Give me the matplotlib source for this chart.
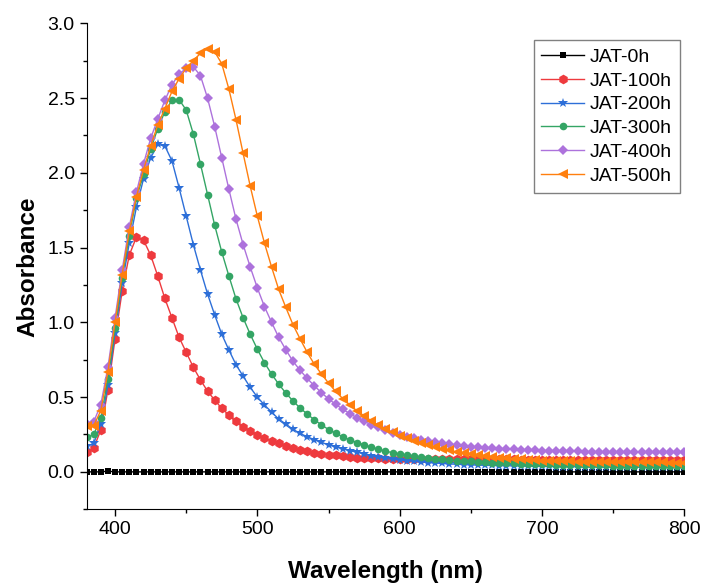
import matplotlib
matplotlib.use("Agg")
import matplotlib.pyplot as plt
from matplotlib.ticker import MultipleLocator

plt.rcParams.update({'font.family': ['Liberation Sans', 'DejaVu Sans']})

# wavelength grid (nm), one reading every 5 nm
wavelength = list(range(380, 805, 5))

jat_0h = [
    0.0, 0.0, 0.0, 0.005, 0.0, 0.0, 0.0, 0.0, 0.0, 0.0,
    0.0, 0.0, 0.0, 0.0, 0.0, 0.0, 0.0, 0.0, 0.0, 0.0,
    0.0, 0.0, 0.0, 0.0, 0.0, 0.0, 0.0, 0.0, 0.0, 0.0,
    0.0, 0.0, 0.0, 0.0, 0.0, 0.0, 0.0, 0.0, 0.0, 0.0,
    0.0, 0.0, 0.0, 0.0, 0.0, 0.0, 0.0, 0.0, 0.0, 0.0,
    0.0, 0.0, 0.0, 0.0, 0.0, 0.0, 0.0, 0.0, 0.0, 0.0,
    0.0, 0.0, 0.0, 0.0, 0.0, 0.0, 0.0, 0.0, 0.0, 0.0,
    0.0, 0.0, 0.0, 0.0, 0.0, 0.0, 0.0, 0.0, 0.0, 0.0,
    0.0, 0.0, 0.0, 0.0, 0.0]
jat_100h = [
    0.13, 0.16, 0.28, 0.55, 0.89, 1.21, 1.45, 1.57, 1.55, 1.45,
    1.31, 1.16, 1.03, 0.90, 0.80, 0.70, 0.615, 0.54, 0.48, 0.425,
    0.38, 0.337, 0.30, 0.275, 0.248, 0.225, 0.208, 0.19, 0.174, 0.16,
    0.147, 0.137, 0.128, 0.121, 0.114, 0.11, 0.105, 0.10, 0.096, 0.094,
    0.092, 0.090, 0.089, 0.088, 0.087, 0.087, 0.086, 0.086, 0.086, 0.085,
    0.085, 0.085, 0.085, 0.084, 0.084, 0.084, 0.084, 0.083, 0.083, 0.083,
    0.083, 0.082, 0.082, 0.082, 0.082, 0.082, 0.081, 0.081, 0.081, 0.081,
    0.081, 0.080, 0.080, 0.080, 0.080, 0.080, 0.080, 0.079, 0.079, 0.079,
    0.079, 0.079, 0.079, 0.079, 0.079]
jat_200h = [
    0.17, 0.19, 0.32, 0.58, 0.93, 1.26, 1.53, 1.77, 1.96, 2.10,
    2.19, 2.18, 2.08, 1.90, 1.71, 1.52, 1.35, 1.19, 1.05, 0.92,
    0.815, 0.717, 0.64, 0.565, 0.50, 0.447, 0.40, 0.353, 0.32, 0.285,
    0.257, 0.235, 0.215, 0.197, 0.181, 0.167, 0.154, 0.142, 0.131, 0.121,
    0.105, 0.097, 0.090, 0.084, 0.079, 0.074, 0.070, 0.066, 0.062, 0.059,
    0.056, 0.053, 0.051, 0.049, 0.047, 0.045, 0.044, 0.043, 0.042, 0.041,
    0.040, 0.039, 0.038, 0.037, 0.037, 0.036, 0.035, 0.035, 0.034, 0.034,
    0.033, 0.033, 0.033, 0.032, 0.032, 0.032, 0.031, 0.031, 0.031, 0.031,
    0.030, 0.030, 0.030, 0.030, 0.030]
jat_300h = [
    0.23, 0.25, 0.36, 0.62, 0.96, 1.30, 1.58, 1.83, 1.99, 2.16,
    2.295, 2.41, 2.485, 2.49, 2.42, 2.26, 2.06, 1.855, 1.65, 1.47,
    1.31, 1.157, 1.03, 0.92, 0.82, 0.73, 0.654, 0.587, 0.527, 0.475,
    0.427, 0.387, 0.348, 0.315, 0.283, 0.259, 0.234, 0.214, 0.196, 0.181,
    0.165, 0.151, 0.139, 0.128, 0.119, 0.111, 0.104, 0.098, 0.093, 0.088,
    0.084, 0.080, 0.076, 0.073, 0.070, 0.067, 0.065, 0.062, 0.060, 0.058,
    0.057, 0.055, 0.054, 0.052, 0.051, 0.050, 0.049, 0.048, 0.047, 0.046,
    0.045, 0.044, 0.044, 0.043, 0.042, 0.042, 0.041, 0.041, 0.040, 0.040,
    0.040, 0.039, 0.039, 0.039, 0.038]
jat_400h = [
    0.32, 0.335, 0.45, 0.70, 1.03, 1.35, 1.64, 1.87, 2.06, 2.23,
    2.36, 2.485, 2.59, 2.66, 2.70, 2.71, 2.65, 2.50, 2.31, 2.10,
    1.89, 1.69, 1.52, 1.37, 1.23, 1.105, 1.00, 0.90, 0.817, 0.74,
    0.68, 0.625, 0.576, 0.53, 0.488, 0.452, 0.419, 0.389, 0.362, 0.338,
    0.316, 0.297, 0.279, 0.263, 0.249, 0.236, 0.225, 0.215, 0.206, 0.198,
    0.191, 0.185, 0.179, 0.174, 0.169, 0.165, 0.161, 0.158, 0.155, 0.152,
    0.150, 0.148, 0.146, 0.144, 0.142, 0.141, 0.140, 0.139, 0.138, 0.137,
    0.136, 0.135, 0.135, 0.134, 0.134, 0.133, 0.133, 0.132, 0.132, 0.132,
    0.131, 0.131, 0.131, 0.130, 0.130]
jat_500h = [
    0.31, 0.31, 0.41, 0.67, 1.00, 1.32, 1.61, 1.84, 2.02, 2.18,
    2.32, 2.43, 2.545, 2.63, 2.70, 2.75, 2.80, 2.83, 2.81, 2.73,
    2.56, 2.355, 2.13, 1.91, 1.71, 1.53, 1.37, 1.22, 1.10, 0.985,
    0.89, 0.80, 0.72, 0.655, 0.594, 0.538, 0.49, 0.448, 0.408, 0.375,
    0.342, 0.313, 0.287, 0.265, 0.243, 0.225, 0.207, 0.191, 0.177, 0.164,
    0.153, 0.143, 0.134, 0.126, 0.118, 0.111, 0.105, 0.100, 0.095, 0.091,
    0.087, 0.084, 0.081, 0.078, 0.076, 0.074, 0.072, 0.071, 0.070, 0.069,
    0.068, 0.067, 0.066, 0.066, 0.065, 0.065, 0.064, 0.064, 0.064, 0.063,
    0.063, 0.063, 0.062, 0.062, 0.062]

labels = ['JAT-0h', 'JAT-100h', 'JAT-200h', 'JAT-300h', 'JAT-400h', 'JAT-500h']
series = [jat_0h, jat_100h, jat_200h, jat_300h, jat_400h, jat_500h]
colors = ['#000000', '#ee3a3e', '#2d6fd8', '#34a565', '#ad72dc', '#ff7f0e']
markers = ['s', 'h', '*', 'o', 'D', '<']
msizes = [4.5, 7, 7.5, 5.5, 5.5, 7]

fig = plt.figure(figsize=(7.04, 5.84), dpi=100)
ax = fig.add_axes([0.123, 0.128, 0.849, 0.832])

for y, lab, c, m, ms in zip(series, labels, colors, markers, msizes):
    ax.plot(wavelength, y, color=c, marker=m, markersize=ms, linewidth=1,
            markeredgewidth=0, label=lab)

ax.set_xlim(380, 800)
ax.set_ylim(-0.25, 3.0)
ax.xaxis.set_major_locator(MultipleLocator(100))
ax.xaxis.set_minor_locator(MultipleLocator(50))
ax.yaxis.set_major_locator(MultipleLocator(0.5))
ax.yaxis.set_minor_locator(MultipleLocator(0.25))
ax.yaxis.set_major_formatter(matplotlib.ticker.FormatStrFormatter('%.1f'))
ax.tick_params(which='major', direction='out', length=5, width=1, labelsize=14)
ax.tick_params(which='minor', direction='out', length=3, width=1)
ax.spines['top'].set_visible(False)
ax.spines['right'].set_visible(False)
ax.set_xlabel('Wavelength (nm)', fontsize=17.5, fontweight='bold', labelpad=16)
ax.set_ylabel('Absorbance', fontsize=17.5, fontweight='bold', labelpad=6)

leg = ax.legend(loc='upper right', bbox_to_anchor=(0.9925, 0.965), borderaxespad=0,
                fontsize=14, labelspacing=0.32, handlelength=2.2, handletextpad=0.3,
                fancybox=False, framealpha=1, edgecolor='#808080', borderpad=0.4)
leg.get_frame().set_linewidth(1)

plt.savefig('out.png', dpi=100)
